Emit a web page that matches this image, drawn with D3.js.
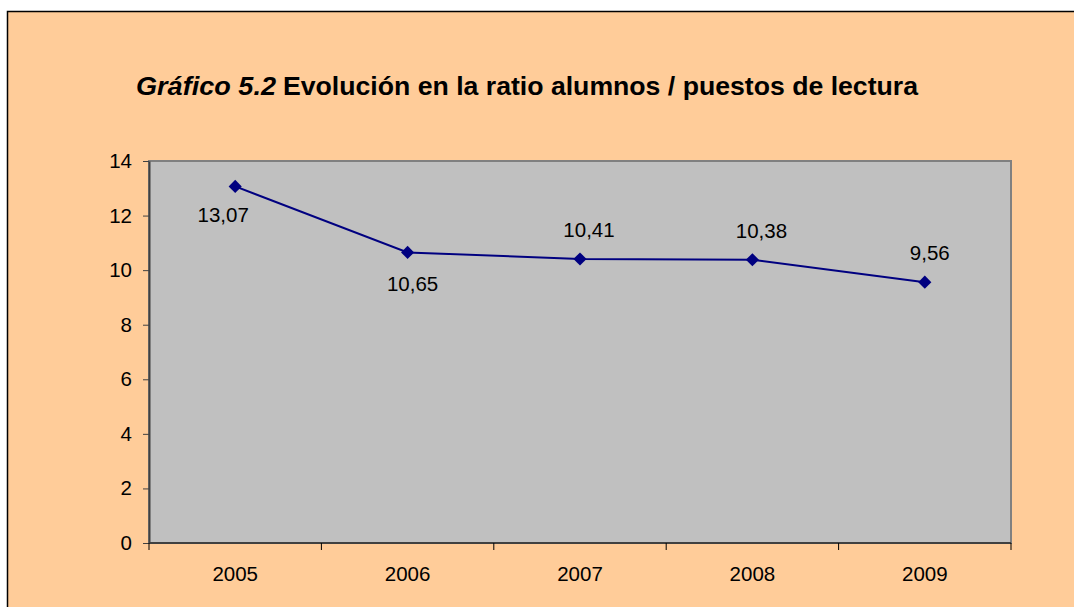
<!DOCTYPE html>
<html>
<head>
<meta charset="utf-8">
<script src="https://cdn.jsdelivr.net/npm/d3@7"></script>
<style>
  body { margin: 0; background: #fff; }
  svg { display: block; font-family: "Liberation Sans", Arial, sans-serif; }
</style>
</head>
<body>
<div id="chart"></div>
<script>
// data
const years = ["2005", "2006", "2007", "2008", "2009"];
const ratios = [13.07, 10.65, 10.41, 10.38, 9.56];
const yTicks = [0, 2, 4, 6, 8, 10, 12, 14];
const titleLead = "Gráfico 5.2";
const titleText = "Evolución en la ratio alumnos / puestos de lectura";

// where each value label sits relative to its marker (style only)
const labelPlace = [
  {dx: -12, dy: 36},
  {dx: 5, dy: 39},
  {dx: 9, dy: -22},
  {dx: 9, dy: -22},
  {dx: 5, dy: -22}
];

const width = 1074, height = 607;
const plot = {left: 149, right: 1011, top: 161, bottom: 543};
const fmt = v => d3.format(".2f")(v).replace(".", ",");
const fontSize = 20.5;

const svg = d3.select("#chart").append("svg")
  .attr("width", width)
  .attr("height", height);

// chart background + border
svg.append("rect")
  .attr("x", 7.5).attr("y", 11.5)
  .attr("width", width + 10).attr("height", height + 10)
  .attr("fill", "#FFCC99")
  .attr("stroke", "#000")
  .attr("stroke-width", 1.5);

// title
svg.append("text")
  .attr("x", 136).attr("y", 95)
  .attr("font-size", 25)
  .attr("font-weight", "bold")
  .attr("font-style", "italic")
  .attr("textLength", 140)
  .attr("lengthAdjust", "spacingAndGlyphs")
  .text(titleLead);

svg.append("text")
  .attr("x", 283).attr("y", 95)
  .attr("font-size", 25)
  .attr("font-weight", "bold")
  .attr("textLength", 635)
  .attr("lengthAdjust", "spacingAndGlyphs")
  .text(titleText);

// scales
const x = d3.scaleBand()
  .domain(years)
  .range([plot.left, plot.right]);

const y = d3.scaleLinear()
  .domain([0, 14])
  .range([plot.bottom, plot.top]);

// plot area
svg.append("rect")
  .attr("x", plot.left).attr("y", plot.top)
  .attr("width", plot.right - plot.left)
  .attr("height", plot.bottom - plot.top)
  .attr("fill", "#C0C0C0")
  .attr("stroke", "#808080")
  .attr("stroke-width", 2);

// y axis
const yAxis = svg.append("g")
  .attr("transform", `translate(${plot.left},0)`)
  .call(d3.axisLeft(y).tickValues(yTicks).tickSize(6).tickPadding(11).tickSizeOuter(0));
yAxis.select(".domain").attr("stroke", "#404040").attr("stroke-width", 2);
yAxis.selectAll(".tick line").attr("stroke", "#404040");
yAxis.selectAll(".tick text")
  .attr("font-size", fontSize)
  .attr("fill", "#000")
  .attr("font-family", "Liberation Sans, Arial, sans-serif");

// x axis: ticks between categories
const xAxis = svg.append("g")
  .attr("transform", `translate(0,${plot.bottom})`);
xAxis.append("line")
  .attr("x1", plot.left).attr("x2", plot.right)
  .attr("stroke", "#404040").attr("stroke-width", 2);
const bounds = years.map(d => x(d)).concat([x(years[years.length - 1]) + x.bandwidth()]);
xAxis.selectAll("line.tk")
  .data(bounds)
  .join("line")
  .attr("class", "tk")
  .attr("x1", d => d).attr("x2", d => d)
  .attr("y1", 0).attr("y2", 7)
  .attr("stroke", "#000");
xAxis.selectAll("text")
  .data(years)
  .join("text")
  .attr("x", d => x(d) + x.bandwidth() / 2)
  .attr("y", 38)
  .attr("text-anchor", "middle")
  .attr("font-size", fontSize)
  .text(d => d);

// line
const pts = years.map((d, i) => ({year: d, value: ratios[i]}));
const cx = d => x(d.year) + x.bandwidth() / 2;

svg.append("path")
  .datum(pts)
  .attr("fill", "none")
  .attr("stroke", "#000080")
  .attr("stroke-width", 2)
  .attr("d", d3.line().x(cx).y(d => y(d.value)));

// markers
svg.append("g")
  .selectAll("path")
  .data(pts)
  .join("path")
  .attr("transform", d => `translate(${cx(d)},${y(d.value)})`)
  .attr("d", d3.symbol().type(d3.symbolDiamond2).size(110))
  .attr("fill", "#000080");

// value labels
svg.append("g")
  .selectAll("text")
  .data(pts)
  .join("text")
  .attr("x", (d, i) => cx(d) + labelPlace[i].dx)
  .attr("y", (d, i) => y(d.value) + labelPlace[i].dy)
  .attr("text-anchor", "middle")
  .attr("font-size", fontSize)
  .text(d => fmt(d.value));
</script>
</body>
</html>
